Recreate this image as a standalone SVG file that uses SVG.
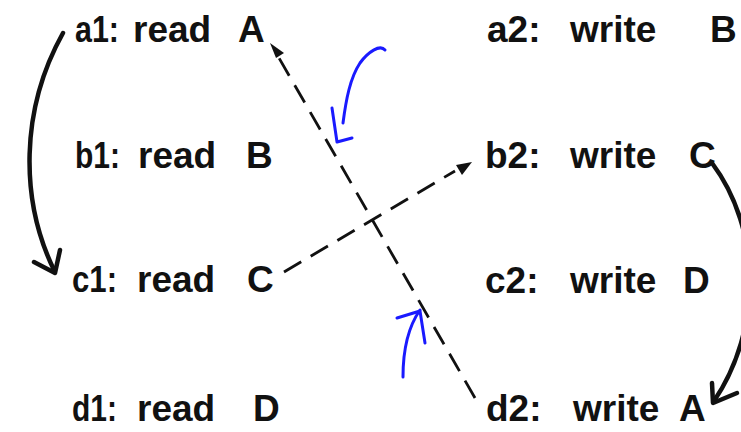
<svg xmlns="http://www.w3.org/2000/svg" width="741" height="432" viewBox="0 0 741 432">
<style>
.t{font-family:"Liberation Sans",Arial,sans-serif;font-weight:bold;font-size:37px;fill:#111}
.dash{fill:none;stroke:#111;stroke-width:2.8;stroke-dasharray:20 11}
.curve{fill:none;stroke:#111;stroke-width:4.5;stroke-linecap:round}
.head{fill:none;stroke:#111;stroke-width:4.5;stroke-linecap:round;stroke-linejoin:round}
.blue{fill:none;stroke:#1a1aff;stroke-width:3;stroke-linecap:round;stroke-linejoin:round}
</style>
<rect width="741" height="432" fill="#fff"/>
<g id="a1"><text class="t" y="42"><tspan x="75" textLength="44" lengthAdjust="spacingAndGlyphs">a1:</tspan><tspan x="133">read</tspan><tspan x="238">A</tspan></text></g>
<g id="b1"><text class="t" y="168"><tspan x="75" textLength="45" lengthAdjust="spacingAndGlyphs">b1:</tspan><tspan x="138">read</tspan><tspan x="246">B</tspan></text></g>
<g id="c1"><text class="t" y="292"><tspan x="72" textLength="45" lengthAdjust="spacingAndGlyphs">c1:</tspan><tspan x="137">read</tspan><tspan x="247">C</tspan></text></g>
<g id="d1"><text class="t" y="421"><tspan x="72" textLength="45" lengthAdjust="spacingAndGlyphs">d1:</tspan><tspan x="137">read</tspan><tspan x="253">D</tspan></text></g>
<g id="a2"><text class="t" y="42"><tspan x="487">a2:</tspan><tspan x="570">write</tspan><tspan x="710">B</tspan></text></g>
<g id="b2"><text class="t" y="168"><tspan x="485">b2:</tspan><tspan x="570">write</tspan><tspan x="689">C</tspan></text></g>
<g id="c2"><text class="t" y="293"><tspan x="485">c2:</tspan><tspan x="570">write</tspan><tspan x="683">D</tspan></text></g>
<g id="d2"><text class="t" y="421"><tspan x="486">d2:</tspan><tspan x="573">write</tspan><tspan x="679">A</tspan></text></g>
<g id="connectors">
<path class="dash" d="M475,398 L279,58"/>
<path d="M270,43 L284,53 L276,58 z" fill="#111"/>
<path class="dash" d="M284,272 L455,171"/>
<path d="M472,162 L456,165 L462,175 z" fill="#111"/>
<path class="curve" d="M63,33 C20,110 20,200 54,270"/>
<path class="head" d="M34,262 L55,273 L60,250"/>
<path class="curve" d="M712,163 C762,230 762,330 714,401"/>
<path class="head" d="M712,383 L713,403 L737,393"/>
<path class="blue" d="M385,50 C380,44 368,52 360,63 C350,78 346,100 343,123"/>
<path class="blue" d="M332,108 L337,142 L352,138"/>
<path class="blue" d="M403,377 C403,355 406,330 420,310"/>
<path class="blue" d="M397,318 L420,311 L425,343"/>
</g>
</svg>
